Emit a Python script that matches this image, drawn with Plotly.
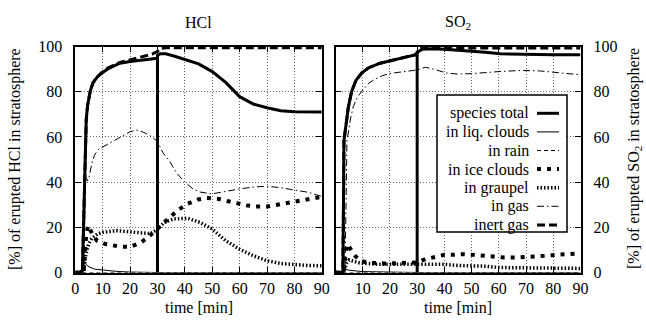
import plotly.graph_objects as go

FONT = "Liberation Serif, DejaVu Serif, serif"

# ---------------- HCl panel data ----------------
hcl_total_t = [0, 2, 2.6, 3.0, 3.3, 3.6, 4.0, 4.5, 5.0, 5.5, 6.5, 8, 9.6, 12, 16.3, 20, 27, 30, 30, 30, 31, 33, 36, 40, 45, 50, 55, 60, 65, 70, 75, 80, 85, 90]
hcl_total   = [0, 0, 1, 20, 45, 60, 68, 74, 78, 80.5, 84, 86.5, 88.2, 90.2, 92.6, 93.4, 94.4, 94.8, 0, 96, 96.8, 96.8, 95.8, 94.4, 92.3, 88.9, 84, 77.8, 74.5, 72.9, 71.6, 71.1, 71, 71]

hcl_inert_t = [0, 2, 2.6, 3.0, 3.3, 3.6, 4.0, 4.5, 5.0, 5.5, 6.5, 8, 9.6, 12, 16.3, 20, 25, 28, 30, 31, 33, 40, 50, 60, 70, 80, 90]
hcl_inert   = [0, 0, 1, 20, 45, 60, 68, 74, 78, 80.5, 84, 86.5, 88.4, 90.6, 93, 94.2, 95.6, 96.6, 97.8, 99.2, 99.4, 99.4, 99.4, 99.4, 99.4, 99.4, 99.4]

hcl_liq_t = [0, 2.5, 3, 3.5, 4, 5, 7, 10, 15, 20, 30, 90]
hcl_liq   = [0, 0, 4, 4.5, 3.5, 2.5, 1.5, 1, 0.5, 0.2, 0, 0]

hcl_rain_t = [0, 30, 60, 90]
hcl_rain   = [0, 0, 0, 0]

hcl_ice_t = [0, 3, 3.5, 4, 4.7, 5.5, 6.5, 8, 11, 16, 20, 24, 27, 30, 32.5, 35, 38.2, 41, 44.7, 48, 52, 55, 58.9, 62.4, 66, 70, 73, 77, 80.5, 84, 88, 90]
hcl_ice   = [0, 0, 8, 17, 20.8, 19, 16.3, 14, 12.6, 11.5, 11.3, 13.3, 16, 19.3, 22.2, 25, 28.2, 30.4, 32.3, 33, 32.6, 31.6, 30.7, 29.7, 29.2, 29.2, 29.9, 30.4, 31.4, 32.1, 33.3, 33.5]

hcl_graupel_t = [0, 3, 3.5, 4, 5, 6, 8, 10, 15, 20, 25, 27.5, 30, 32.5, 36, 41, 45.5, 50, 55, 60, 65, 70, 75, 80, 85, 90]
hcl_graupel   = [0, 0, 5, 9, 13, 15, 17, 17.8, 18.5, 18, 17.3, 17.2, 19, 22.2, 23.7, 24, 22.2, 19.2, 14, 10.3, 7.4, 5.2, 4, 3.4, 3.1, 3]

hcl_gas_t = [0, 3.2, 3.6, 4, 4.5, 5, 6, 7, 8.5, 10, 12, 14, 17, 20, 22.5, 25, 27, 30, 32, 34.6, 37, 40, 43, 45.5, 50, 55, 60, 65, 70, 75, 80, 85, 89, 90]
hcl_gas   = [0, 0, 40, 42, 40.5, 42, 48, 52, 54.5, 55.5, 57, 58.5, 60.5, 62.3, 63, 62, 60.8, 58, 53, 48.9, 44, 40, 37, 35.6, 34.8, 36, 37, 37.8, 38.2, 37.5, 36.6, 35.5, 34, 33.7]

# ---------------- SO2 panel data ----------------
so2_total_t = [0, 2.5, 2.7, 3.0, 3.1, 3.5, 4.0, 4.7, 5.9, 7.5, 9.6, 12, 16.4, 20, 23.7, 27, 29.2, 30, 30, 30, 32, 35, 40, 50, 55, 60.5, 70, 80, 90]
so2_total   = [0, 0, 0, 40, 58, 62, 66, 73, 80, 85, 88.2, 90.5, 92.6, 93.7, 94.8, 95.7, 96.3, 97, 0, 97.5, 98.8, 99, 98.8, 98.1, 97.5, 96.8, 96.4, 96.3, 96.3]

so2_inert_t = [0, 2.5, 2.7, 3.0, 3.1, 3.5, 4.0, 4.7, 5.9, 7.5, 9.6, 12, 16.4, 20, 23.7, 27, 29.2, 30, 31, 40, 50, 60, 70, 80, 90]
so2_inert   = [0, 0, 0, 40, 58, 62, 66, 73, 80, 85, 88.2, 90.5, 92.6, 93.7, 94.8, 95.7, 96.3, 97.2, 99.3, 99.3, 99.3, 99.3, 99.3, 99.3, 99.3]

so2_liq_t = [0, 3, 3.5, 5, 10, 20, 30, 90]
so2_liq   = [0, 0, 1.5, 1, 0.4, 0.1, 0, 0]

so2_rain_t = [0, 30, 60, 90]
so2_rain   = [0, 0, 0, 0]

so2_ice_t = [0, 3, 3.5, 4.2, 4.7, 5.9, 7.2, 9, 12, 18, 26, 30, 33, 36.6, 40, 43.7, 46.7, 51, 54.7, 58.4, 62, 66.3, 70, 73.7, 77.4, 81, 85, 90]
so2_ice   = [0, 0, 6, 12.5, 11.9, 9.6, 7.4, 5.2, 4.3, 4.0, 4.1, 4.4, 5.9, 6.9, 7.8, 7.8, 8.1, 7.8, 7.4, 6.9, 6.6, 6.6, 6.8, 6.9, 7.4, 7.8, 8.1, 8.5]

so2_graupel_t = [0, 3, 4, 5, 6.5, 9, 15, 25, 30, 40, 45, 55, 60, 70, 80, 90]
so2_graupel   = [0, 0, 4, 5.5, 5, 4.2, 3.7, 3.7, 3.7, 3.6, 3.1, 2.8, 2.2, 2, 1.9, 1.8]

so2_gas_t = [0, 3.5, 4.2, 4.7, 5.5, 6.5, 8, 9.6, 12, 14, 17, 20, 25, 30, 33, 36, 41, 45, 50, 55, 60, 68, 75, 80, 85, 90]
so2_gas   = [0, 0, 58, 62, 68, 73.3, 77.5, 80, 83.5, 85.2, 87, 88.1, 88.8, 89.6, 90.8, 90, 88.2, 87.8, 88, 88.5, 88.9, 89.4, 89.2, 88.6, 88.2, 87.5]

x_ticks_left = [0, 10, 20, 30, 40, 50, 60, 70, 80, 90]
x_ticks_right = [10, 20, 30, 40, 50, 60, 70, 80, 90]
y_ticks = [0, 20, 40, 60, 80, 100]

legend_names = ["species total", "in liq. clouds", "in rain", "in ice clouds", "in graupel", "in gas", "inert gas"]

STY = {
    "species total": dict(width=3, dash="solid"),
    "in liq. clouds": dict(width=1, dash="solid"),
    "in rain": dict(width=1, dash="4px,3px"),
    "in ice clouds": dict(width=4, dash="4px,6px"),
    "in graupel": dict(width=3.5, dash="1.5px,2px"),
    "in gas": dict(width=1, dash="7px,3px,1.5px,3px"),
    "inert gas": dict(width=3, dash="8px,4px"),
}

fig = go.Figure()

def add(panel, name, t, y):
    xa, ya = ("x", "y") if panel == 0 else ("x2", "y2")
    fig.add_trace(go.Scatter(x=t, y=y, mode="lines", name=name, showlegend=False,
                             xaxis=xa, yaxis=ya,
                             line=dict(color="black", width=STY[name]["width"], dash=STY[name]["dash"])))

panels = [
    [("in gas", hcl_gas_t, hcl_gas), ("in liq. clouds", hcl_liq_t, hcl_liq), ("in rain", hcl_rain_t, hcl_rain),
     ("in graupel", hcl_graupel_t, hcl_graupel), ("in ice clouds", hcl_ice_t, hcl_ice),
     ("species total", hcl_total_t, hcl_total), ("inert gas", hcl_inert_t, hcl_inert)],
    [("in gas", so2_gas_t, so2_gas), ("in liq. clouds", so2_liq_t, so2_liq), ("in rain", so2_rain_t, so2_rain),
     ("in graupel", so2_graupel_t, so2_graupel), ("in ice clouds", so2_ice_t, so2_ice),
     ("species total", so2_total_t, so2_total), ("inert gas", so2_inert_t, so2_inert)],
]
for p, series in enumerate(panels):
    for name, t, y in series:
        add(p, name, t, y)

W, H = 646, 323
def px(x):
    return x / W
def py(y):
    return 1 - y / H

ydom = [py(272.5), py(46.5)]
axis_common = dict(ticks="inside", ticklen=6, tickwidth=1.2, tickcolor="black",
                   showline=True, linecolor="black", linewidth=1.5, mirror="allticks",
                   showgrid=True, gridcolor="#666", griddash="1px,2px", gridwidth=1,
                   zeroline=False, tickfont=dict(family=FONT, size=16, color="black"),
                   automargin=False)
xstand = 1
ystand = 8

fig.update_layout(
    width=W, height=H, margin=dict(l=0, r=0, t=0, b=0, pad=0, autoexpand=False),
    paper_bgcolor="white", plot_bgcolor="white",
    font=dict(family=FONT, size=16, color="black"),
    showlegend=False,
    xaxis=dict(axis_common, domain=[px(75.3), px(321.8)], range=[0, 90], tickvals=x_ticks_left, anchor="y",
               ticklabelstandoff=xstand),
    yaxis=dict(axis_common, domain=ydom, range=[0, 100], tickvals=y_ticks, anchor="x", ticklabelstandoff=ystand),
    xaxis2=dict(axis_common, domain=[px(335.5), px(580.5)], range=[0, 90], tickvals=x_ticks_right, anchor="y2",
                ticklabelstandoff=xstand),
    yaxis2=dict(axis_common, domain=ydom, range=[0, 100], tickvals=y_ticks, anchor="x2", side="right",
                ticklabelstandoff=ystand),
)

def A(text, x, y, angle=0, xanchor="center"):
    return dict(text=text, x=px(x), y=py(y), xref="paper", yref="paper", showarrow=False,
                xanchor=xanchor, yanchor="middle", textangle=angle,
                font=dict(family=FONT, size=16, color="black"))

ann = [
    A("HCl", 198.5, 22),
    A("SO<sub>2</sub>", 458, 22),
    A("time [min]", 198.5, 307),
    A("time [min]", 458, 307),
    A("[%] of erupted HCl in stratosphere", 15, 159, -90),
    A("[%] of erupted SO<sub>2</sub> in stratosphere", 634, 159, -90),
]

shapes = [dict(type="rect", xref="paper", yref="paper", x0=px(437), x1=px(567), y0=py(232), y1=py(95),
               line=dict(color="black", width=1.5), fillcolor="white", layer="above")]
for i, name in enumerate(legend_names):
    yc = 113.3 + i * 18.6
    ann.append(A(name, 531, yc, 0, "right"))
    shapes.append(dict(type="line", xref="paper", yref="paper", x0=px(537), x1=px(559), y0=py(yc), y1=py(yc),
                       line=dict(color="black", width=STY[name]["width"], dash=STY[name]["dash"]), layer="above"))

fig.update_layout(annotations=ann, shapes=shapes)
fig.write_html("out.html",
               post_script="document.body.style.margin='0';document.body.style.overflow='hidden';")
